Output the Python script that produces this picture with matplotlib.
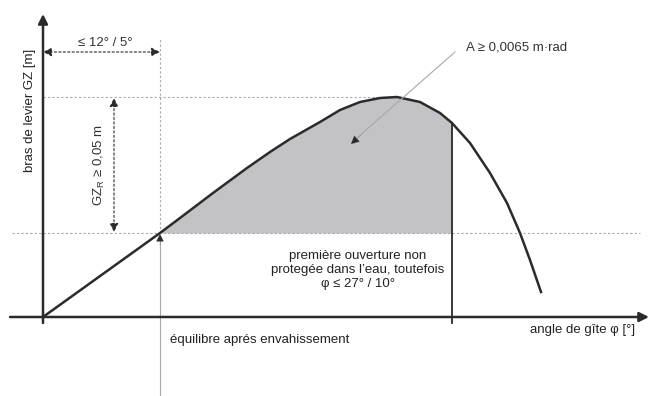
import matplotlib.pyplot as plt
import numpy as np

# courbe GZ (unités schématiques : angle de gîte / bras de levier)
phi = np.array([0, 117, 137, 170, 204, 227, 247, 277, 297, 317, 337, 354,
                377, 397, 409, 427, 447, 464, 477, 487, 498])
gz = np.array([0, 84, 99, 124, 149, 165, 178, 195, 207, 215, 219, 220,
               215, 204, 194, 174, 144, 114, 84, 57, 25])

phi_eq = 117      # équilibre après envahissement
phi_open = 409    # première ouverture non protégée
gz_r = 84         # niveau GZ à l'équilibre
gz_max = 220      # GZ max

DARK = '#2b2b2b'
LIGHT = '#a8a8a8'
FS = 9.5

plt.rcParams['font.family'] = ['Liberation Sans', 'DejaVu Sans']
fig = plt.figure(figsize=(6.49, 3.96), dpi=100)
ax = fig.add_axes([0, 0, 1, 1])
ax.set_xlim(-43, 606)
ax.set_ylim(-79, 317)
ax.axis('off')

# aire grisée
mask = (phi >= phi_eq) & (phi <= phi_open)
ax.fill_between(phi[mask], gz_r, gz[mask], color='#c3c3c7', lw=0, zorder=1)

# lignes pointillées
ax.plot([-31, 597], [gz_r, gz_r], ls=(0, (2, 2)), color=LIGHT, lw=0.8, zorder=2)
ax.plot([0, 357], [gz_max, gz_max], ls=(0, (2, 2)), color=LIGHT, lw=0.8, zorder=2)
ax.plot([phi_eq, phi_eq], [gz_r, 279], ls=(0, (2, 2)), color=LIGHT, lw=0.8, zorder=2)

# trait équilibre avec flèche
ax.plot([phi_eq, phi_eq], [-79, gz_r - 4], color=LIGHT, lw=0.8, zorder=2)
ax.annotate('', xy=(phi_eq, gz_r - 1), xytext=(phi_eq, gz_r - 12),
            arrowprops=dict(arrowstyle='-|>', color=DARK, lw=0.1,
                            mutation_scale=13, shrinkA=0, shrinkB=0), zorder=3)

# cote horizontale
ax.annotate('', xy=(0, 265), xytext=(phi_eq, 265),
            arrowprops=dict(arrowstyle='<|-|>', color=DARK, lw=0.8, ls=(0, (2, 2)),
                            mutation_scale=13, shrinkA=0, shrinkB=0))
ax.text(62, 274, '≤ 12° / 5°', ha='center', va='center', fontsize=FS, color='#333333')

# cote verticale GZ_R
ax.annotate('', xy=(71, gz_max - 1), xytext=(71, gz_r + 1),
            arrowprops=dict(arrowstyle='<|-|>', color=DARK, lw=0.8, ls=(0, (2, 2)),
                            mutation_scale=13, shrinkA=0, shrinkB=0))
ax.text(56, 152, 'GZ$_\\mathregular{R}$ ≥ 0,05 m', rotation=90, ha='center', va='center',
        fontsize=FS, color='#333333')

# courbe
ax.plot(phi, gz, color=DARK, lw=1.8, zorder=4, solid_joinstyle='round')
ax.plot([phi_open, phi_open], [-6, gz[phi == phi_open][0]], color=DARK, lw=1.3, zorder=4)

# axes
ax.annotate('', xy=(606, 0), xytext=(-33, 0),
            arrowprops=dict(arrowstyle='-|>', color=DARK, lw=1.8,
                            mutation_scale=14, shrinkA=0, shrinkB=0), zorder=5)
ax.annotate('', xy=(0, 303), xytext=(0, -6),
            arrowprops=dict(arrowstyle='-|>', color=DARK, lw=1.8,
                            mutation_scale=14, shrinkA=0, shrinkB=0), zorder=5)

# annotation aire
ax.plot([412, 315], [265, 180], color=LIGHT, lw=0.8, zorder=6)
ax.annotate('', xy=(308, 173), xytext=(318, 182),
            arrowprops=dict(arrowstyle='-|>', color=DARK, lw=0.1, mutation_scale=14,
                            shrinkA=0, shrinkB=0), zorder=6)
ax.text(423, 270, 'A ≥ 0,0065 m·rad', ha='left', va='center', fontsize=FS, color='#333333')

# textes
ax.text(315, 47, 'première ouverture non\nprotegée dans l\u2019eau, toutefois\nφ ≤ 27° / 10°',
        ha='center', va='center', fontsize=FS, color='#222222', linespacing=1.2)
ax.text(127, -23, 'équilibre aprés envahissement', ha='left', va='center',
        fontsize=FS, color='#222222')
ax.text(487, -13, 'angle de gîte φ [°]', ha='left', va='center', fontsize=FS, color='#222222')
ax.text(-13, 207, 'bras de levier GZ [m]', rotation=90, ha='center', va='center',
        fontsize=FS, color='#222222')

fig.savefig('out.png', dpi=100, facecolor='white')
